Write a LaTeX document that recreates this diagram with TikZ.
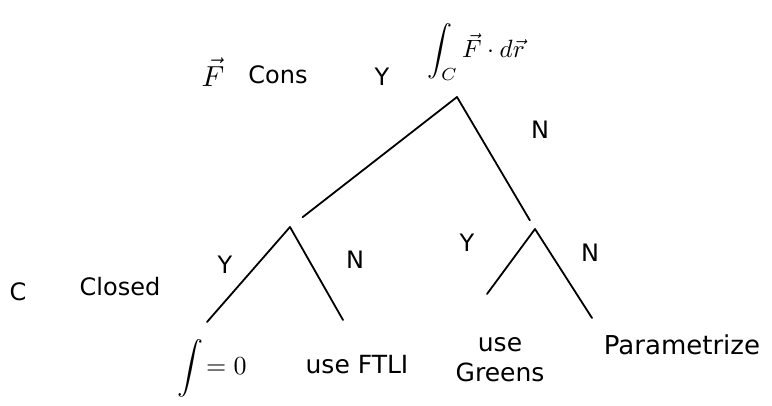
\documentclass[tikz,border=0pt]{standalone}
\usepackage{fontspec}
\setmainfont{DejaVu Sans}
\begin{document}
\begin{tikzpicture}[x=1pt,y=-1pt,
  br/.style={line width=1.8pt,line cap=round},
  lbl/.style={font=\fontsize{24}{26}\selectfont,inner sep=0pt},
  leaf/.style={font=\fontsize{25}{30}\selectfont,inner sep=0pt,align=center},
  mth/.style={inner sep=0pt,transform shape=false}]
\useasboundingbox (0,0) rectangle (772,406);
% tree points
\coordinate (root) at (457,97);
\coordinate (L) at (290,227);
\coordinate (R) at (535,229);
\coordinate (LL) at (207,322);
\coordinate (LR) at (343,320);
\coordinate (RL) at (487,294);
\coordinate (RR) at (592,318);
% connectors
\draw[br,shorten >=16pt] (root) -- (L);
\draw[br,shorten >=10pt] (root) -- (R);
\draw[br] (L) -- (LL);
\draw[br] (L) -- (LR);
\draw[br] (R) -- (RL);
\draw[br] (R) -- (RR);
% top expression
\node[mth,scale=2.5] (top) at (476,52) {$\displaystyle\int_C \vec{F}\cdot d\vec{r}$};
% level labels
\node[mth,scale=2.9] (F) at (213,72) {$\vec{F}$};
\node[lbl] (cons) at (278,75) {Cons};
\node[lbl] (y1) at (382,77) {Y};
\node[lbl] (n1) at (540,130) {N};
\node[lbl] (C) at (18,292) {C};
\node[lbl] (closed) at (120,287) {Closed};
\node[lbl] (y2) at (225,265) {Y};
\node[lbl] (n2) at (355,260) {N};
\node[lbl] (y3) at (467,243) {Y};
\node[lbl] (n3) at (590,253) {N};
% leaves
\node[mth,scale=2.6] (l1) at (212,368) {$\displaystyle\int\!=0$};
\node[leaf] (l2) at (357,365) {use FTLI};
\node[leaf] (l3) at (500,360) {use\\Greens};
\node[leaf,font=\fontsize{26}{30}\selectfont] (l4) at (682,345) {Parametrize};
\end{tikzpicture}
\end{document}
